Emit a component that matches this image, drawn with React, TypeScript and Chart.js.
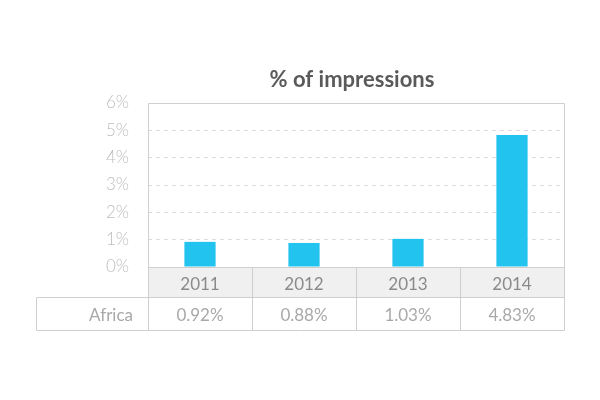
import React, { useEffect, useRef } from "react";
import { Chart, registerables } from "chart.js";

Chart.register(...registerables);

const title = "% of impressions";
const years = ["2011", "2012", "2013", "2014"];
const rowLabel = "Africa";
const africa = [0.92, 0.88, 1.03, 4.83];
const yTicksMax = 6;

const FONT = "Lato, 'Open Sans', sans-serif";

const tablePlugin = {
  id: "tablePlugin",
  beforeDraw(chart: any) {
    const { ctx, chartArea } = chart;
    const x = chart.scales.x;
    ctx.save();
    ctx.fillStyle = "#f0f0f1";
    ctx.fillRect(chartArea.left, chartArea.bottom, chartArea.right - chartArea.left, x.bottom - chartArea.bottom);
    ctx.restore();
  },
  afterDraw(chart: any) {
    const { ctx, chartArea } = chart;
    const x = chart.scales.x;
    const L = chartArea.left;
    const R = chartArea.right;
    const bandTop = chartArea.bottom;
    const bandBottom = x.bottom;
    const rowBottom = bandBottom + 33;
    const tableLeft = 36;
    const h = (v: number) => Math.round(v) + 0.5;

    const bounds: number[] = [L];
    for (let i = 0; i < years.length - 1; i++) {
      bounds.push((x.getPixelForValue(i) + x.getPixelForValue(i + 1)) / 2);
    }
    bounds.push(R);

    ctx.save();
    ctx.lineWidth = 1;
    ctx.strokeStyle = "#cfcfcf";
    ctx.beginPath();
    ctx.moveTo(h(L), h(rowBottom));
    ctx.lineTo(h(L), h(chartArea.top));
    ctx.lineTo(h(R), h(chartArea.top));
    ctx.lineTo(h(R), h(rowBottom));
    ctx.moveTo(h(L), h(bandTop));
    ctx.lineTo(h(R), h(bandTop));
    ctx.moveTo(h(tableLeft), h(bandBottom));
    ctx.lineTo(h(R), h(bandBottom));
    ctx.moveTo(h(tableLeft), h(rowBottom));
    ctx.lineTo(h(R), h(rowBottom));
    ctx.moveTo(h(tableLeft), h(bandBottom));
    ctx.lineTo(h(tableLeft), h(rowBottom));
    for (let i = 1; i < bounds.length - 1; i++) {
      ctx.moveTo(h(bounds[i]), h(bandTop));
      ctx.lineTo(h(bounds[i]), h(rowBottom));
    }
    ctx.stroke();

    ctx.font = `17px ${FONT}`;
    ctx.fillStyle = "#a8a8a8";
    ctx.textBaseline = "middle";
    const rowMid = (bandBottom + rowBottom) / 2 + 2;
    ctx.textAlign = "right";
    ctx.fillText(rowLabel, 133, rowMid);
    ctx.textAlign = "center";
    africa.forEach((v, i) => {
      ctx.fillText(v.toFixed(2) + "%", x.getPixelForValue(i), rowMid);
    });

    ctx.font = `bold 22px ${FONT}`;
    ctx.fillStyle = "#5a5a5a";
    ctx.textAlign = "center";
    ctx.textBaseline = "alphabetic";
    ctx.fillText(title, (L + R) / 2 - 4, 87);
    ctx.restore();
  },
};

export default function App() {
  const ref = useRef<HTMLCanvasElement | null>(null);
  useEffect(() => {
    document.body.style.margin = "0";
    const chart = new Chart(ref.current as HTMLCanvasElement, {
      type: "bar",
      data: {
        labels: years,
        datasets: [
          {
            label: rowLabel,
            data: africa,
            backgroundColor: "#22c3ee",
            borderWidth: 0,
            categoryPercentage: 0.3,
            barPercentage: 1,
          },
        ],
      },
      options: {
        responsive: false,
        animation: false,
        layout: { padding: { left: 0, right: 36, top: 103, bottom: 103 } },
        plugins: {
          legend: { display: false },
          title: { display: false },
          tooltip: { enabled: false },
        },
        scales: {
          x: {
            grid: { display: false, drawTicks: false },
            border: { display: false },
            ticks: {
              color: "#8a8a8a",
              font: { family: FONT, size: 17 },
              padding: 7,
              maxRotation: 0,
            },
            afterFit: (s: any) => {
              s.height = 30;
            },
          },
          y: {
            min: 0,
            max: yTicksMax,
            grid: {
              drawTicks: false,
              color: (c: any) =>
                c.tick && (c.tick.value === 0 || c.tick.value === yTicksMax) ? "rgba(0,0,0,0)" : "#dcdcdc",
            },
            border: { display: false, dash: [4, 4] },
            ticks: {
              stepSize: 1,
              color: "#bdbdbd",
              font: { family: FONT, size: 17, weight: "300" as any },
              padding: 19,
              callback: (v: any) => v + "%",
            },
            afterFit: (s: any) => {
              s.width = 148;
            },
          },
        },
      },
      plugins: [tablePlugin],
    });
    return () => chart.destroy();
  }, []);
  return (
    <div style={{ width: 600, height: 400 }}>
      <canvas ref={ref} width={600} height={400} />
    </div>
  );
}
